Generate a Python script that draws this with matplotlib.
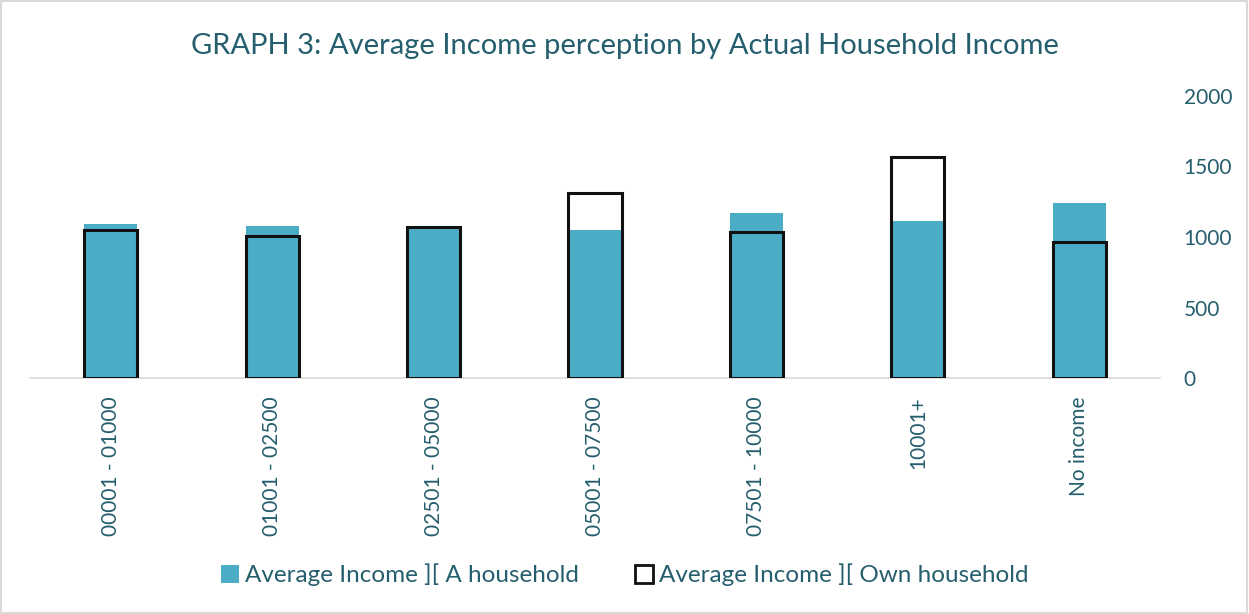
import numpy as np
import matplotlib.pyplot as plt
from matplotlib.patches import Patch, Rectangle

# average income perception per actual household income band
categories = ['00001 - 01000', '01001 - 02500', '02501 - 05000', '05001 - 07500',
              '07501 - 10000', '10001+', 'No income']
a_household = [1090, 1078, 1075, 1050, 1172, 1116, 1239]
own_household = [1050, 1007, 1071, 1310, 1033, 1570, 962]

teal = '#4BACC6'
text_col = '#255E6D'
plt.rcParams['font.family'] = ['Lato', 'DejaVu Sans']

fig = plt.figure(figsize=(12.49, 6.14), dpi=100)
ax = fig.add_axes([30 / 1249, 1 - 378 / 614, 1130 / 1249, 282 / 614])

x = np.arange(len(categories))
w = 0.33
ax.bar(x, a_household, w, color=teal, zorder=2)
ax.bar(x, own_household, w, facecolor='none', edgecolor='#111111', linewidth=2.2, zorder=3)

ax.set_xlim(-0.5, len(categories) - 0.5)
ax.set_ylim(0, 2000)
ax.set_yticks([0, 500, 1000, 1500, 2000])
ax.yaxis.tick_right()
ax.tick_params(axis='y', length=0, pad=17, labelsize=15, labelcolor=text_col)
ax.tick_params(axis='x', length=0, pad=13, labelsize=15, labelcolor=text_col)
ax.set_xticks(x)
ax.set_xticklabels(categories, rotation=90)
for s in ['top', 'right', 'left']:
    ax.spines[s].set_visible(False)
ax.spines['bottom'].set_color('#D9D9D9')
ax.spines['bottom'].set_linewidth(1.2)

fig.text(0.5, 1 - 46 / 614, 'GRAPH 3: Average Income perception by Actual Household Income',
         ha='center', va='center', fontsize=21, color=text_col)

handles = [Patch(facecolor=teal, edgecolor='none', label='Average Income ][ A household'),
           Patch(facecolor='white', edgecolor='#111111', linewidth=2, label='Average Income ][ Own household')]
fig.legend(handles=handles, loc='center', bbox_to_anchor=(0.5, 1 - 575 / 614), ncol=2,
           frameon=False, fontsize=17.5, labelcolor=text_col, handlelength=0.75, handleheight=0.75,
           handletextpad=0.25, columnspacing=2.3)

fig.patches.append(Rectangle((0.001, 0.001), 0.997, 0.997, transform=fig.transFigure,
                             fill=False, edgecolor='#D9D9D9', linewidth=1.5))

fig.savefig('out.png', dpi=100)
